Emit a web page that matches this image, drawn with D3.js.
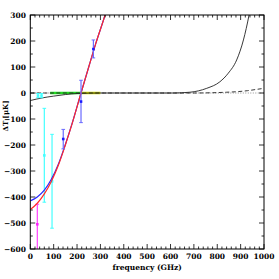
<!DOCTYPE html>
<html>
<head>
<meta charset="utf-8">
<script src="https://cdn.jsdelivr.net/npm/d3@7"></script>
<style>
  body { margin: 0; background: #fff; }
  svg text { font-family: "DejaVu Serif", serif; font-weight: bold; }
</style>
</head>
<body>
<div id="chart"></div>
<script>
// data
var redCurveF = [0, 30, 60, 90, 120, 150, 180, 217, 250, 280, 320, 340];
var redCurveV = [-448, -424, -388, -340, -278, -200, -115, 0, 100, 190, 300, 360];
var blueCurveF = [0, 30, 60, 90, 120, 150, 180, 217, 250, 280, 320, 340];
var blueCurveV = [-415, -400, -374, -332, -274, -198, -114, 0, 100, 190, 300, 360];
var solidF = [0, 50, 100, 150, 200, 300, 400, 500, 611, 683, 755, 811, 847, 883, 912, 936, 950];
var solidV = [-29, -19, -12, -6, -2, 0, 0, 0, 0, 3, 18, 43, 76, 127, 204, 300, 370];
var dashF = [0, 200, 400, 600, 700, 780, 840, 883, 930, 969, 1000];
var dashV = [0, 0, 0, 0, 0, 1, 3, 5, 9, 14, 18];

var bandGreen = [85, 215];
var bandYellow = [215, 300];

var blueF = [141, 217, 270];
var blueV = [-177, -33, 169];
var blueLo = [-215, -114, 135];
var blueHi = [-140, 49, 204];

var cyanF = [33, 48, 60, 93];
var cyanV = [-10, -10, -240, -340];
var cyanLo = [-18, -18, -420, -520];
var cyanHi = [-2, -2, -59, -159];

var magF = [30];
var magV = [-505];
var magLo = [-610];
var magHi = [-428];

var xTicks = [0, 100, 200, 300, 400, 500, 600, 700, 800, 900, 1000];
var yTicks = [300, 200, 100, 0, -100, -200, -300, -400, -500, -600];

var width = 279, height = 279;
var margin = { top: 15, right: 15, bottom: 30, left: 30 };

var svg = d3.select("#chart").append("svg")
    .attr("width", width)
    .attr("height", height);

var x = d3.scaleLinear().domain([0, 1000]).range([margin.left + 0.3, 264]);
var y = d3.scaleLinear().domain([-600, 300]).range([249, 15]);

svg.append("defs").append("clipPath").attr("id", "clip")
    .append("rect")
    .attr("x", x(0)).attr("y", y(300))
    .attr("width", x(1000) - x(0)).attr("height", y(-600) - y(300));

var plot = svg.append("g").attr("clip-path", "url(#clip)");

var line = d3.line()
    .x(d => x(d[0]))
    .y(d => y(d[1]))
    .curve(d3.curveMonotoneX);

// dotted zero line
plot.append("line")
    .attr("x1", x(0)).attr("x2", x(1000))
    .attr("y1", y(0)).attr("y2", y(0))
    .attr("stroke", "#777")
    .attr("stroke-width", 0.8)
    .attr("stroke-dasharray", "1,1.5");

// green / yellow band
plot.append("line")
    .attr("x1", x(bandGreen[0])).attr("x2", x(bandGreen[1]))
    .attr("y1", y(0)).attr("y2", y(0))
    .attr("stroke", "#22dd22").attr("stroke-width", 2.5);
plot.append("line")
    .attr("x1", x(bandYellow[0])).attr("x2", x(bandYellow[1]))
    .attr("y1", y(0)).attr("y2", y(0))
    .attr("stroke", "#d8e000").attr("stroke-width", 2.5);

// black curves
plot.append("path")
    .datum(dashF.map((f, i) => [f, dashV[i]]))
    .attr("d", line)
    .attr("fill", "none")
    .attr("stroke", "#222")
    .attr("stroke-width", 0.9)
    .attr("stroke-dasharray", "4,2.5");

plot.append("path")
    .datum(solidF.map((f, i) => [f, solidV[i]]))
    .attr("d", line)
    .attr("fill", "none")
    .attr("stroke", "#222")
    .attr("stroke-width", 0.9);

// error bars
function errorBars(fs, vs, lo, hi, barColor, ptColor) {
    var g = plot.append("g");
    fs.forEach(function(f, i) {
        g.append("line")
            .attr("x1", x(f)).attr("x2", x(f))
            .attr("y1", y(lo[i])).attr("y2", y(hi[i]))
            .attr("stroke", barColor).attr("stroke-width", 1.2);
        [lo[i], hi[i]].forEach(function(v) {
            g.append("line")
                .attr("x1", x(f) - 1.8).attr("x2", x(f) + 1.8)
                .attr("y1", y(v)).attr("y2", y(v))
                .attr("stroke", barColor).attr("stroke-width", 1);
        });
        g.append("rect")
            .attr("x", x(f) - 1.3).attr("y", y(vs[i]) - 1.3)
            .attr("width", 2.6).attr("height", 2.6)
            .attr("fill", ptColor);
    });
}

errorBars(cyanF, cyanV, cyanLo, cyanHi, "#44ffff", "#44ffff");
errorBars(magF, magV, magLo, magHi, "#ff44ff", "#ff22ff");

// SZ curves
plot.append("path")
    .datum(blueCurveF.map((f, i) => [f, blueCurveV[i]]))
    .attr("d", line)
    .attr("fill", "none")
    .attr("stroke", "#2a2aff")
    .attr("stroke-width", 1.2);

plot.append("path")
    .datum(redCurveF.map((f, i) => [f, redCurveV[i]]))
    .attr("d", line)
    .attr("fill", "none")
    .attr("stroke", "#ff2a2a")
    .attr("stroke-width", 1.2);

errorBars(blueF, blueV, blueLo, blueHi, "#6a6aff", "#1a1aff");

// axes (ticks pointing inward)
var axisG = svg.append("g");

svg.append("rect")
    .attr("x", x(0)).attr("y", y(300))
    .attr("width", x(1000) - x(0)).attr("height", y(-600) - y(300))
    .attr("fill", "none").attr("stroke", "#000").attr("stroke-width", 1);

var xMinor = d3.range(0, 1001, 20);
var yMinor = d3.range(-600, 301, 50);

xMinor.forEach(function(f) {
    var len = f % 100 === 0 ? 5 : 2.5;
    axisG.append("line")
        .attr("x1", x(f)).attr("x2", x(f))
        .attr("y1", y(-600)).attr("y2", y(-600) - len)
        .attr("stroke", "#000").attr("stroke-width", 0.8);
    axisG.append("line")
        .attr("x1", x(f)).attr("x2", x(f))
        .attr("y1", y(300)).attr("y2", y(300) + len)
        .attr("stroke", "#000").attr("stroke-width", 0.8);
});
yMinor.forEach(function(v) {
    var len = v % 100 === 0 ? 5 : 2.5;
    axisG.append("line")
        .attr("x1", x(0)).attr("x2", x(0) + len)
        .attr("y1", y(v)).attr("y2", y(v))
        .attr("stroke", "#000").attr("stroke-width", 0.8);
    axisG.append("line")
        .attr("x1", x(1000)).attr("x2", x(1000) - len)
        .attr("y1", y(v)).attr("y2", y(v))
        .attr("stroke", "#000").attr("stroke-width", 0.8);
});

axisG.selectAll(".xl")
    .data(xTicks)
    .enter().append("text")
    .attr("x", d => x(d))
    .attr("y", 259)
    .attr("text-anchor", "middle")
    .attr("font-size", "7.5px")
    .text(d => d);

axisG.selectAll(".yl")
    .data(yTicks)
    .enter().append("text")
    .attr("x", 26)
    .attr("y", d => y(d) + 2.7)
    .attr("text-anchor", "end")
    .attr("font-size", "7.5px")
    .text(d => d < 0 ? "\u2212" + Math.abs(d) : d);

svg.append("text")
    .attr("x", (x(0) + x(1000)) / 2)
    .attr("y", 270)
    .attr("text-anchor", "middle")
    .attr("font-size", "7.5px")
    .text("frequency (GHz)");

svg.append("text")
    .attr("transform", "translate(8," + 116 + ") rotate(-90)")
    .attr("text-anchor", "middle")
    .attr("font-size", "7px")
    .attr("font-weight", "normal")
    .text("\u0394T [\u03bcK]");
</script>
</body>
</html>
